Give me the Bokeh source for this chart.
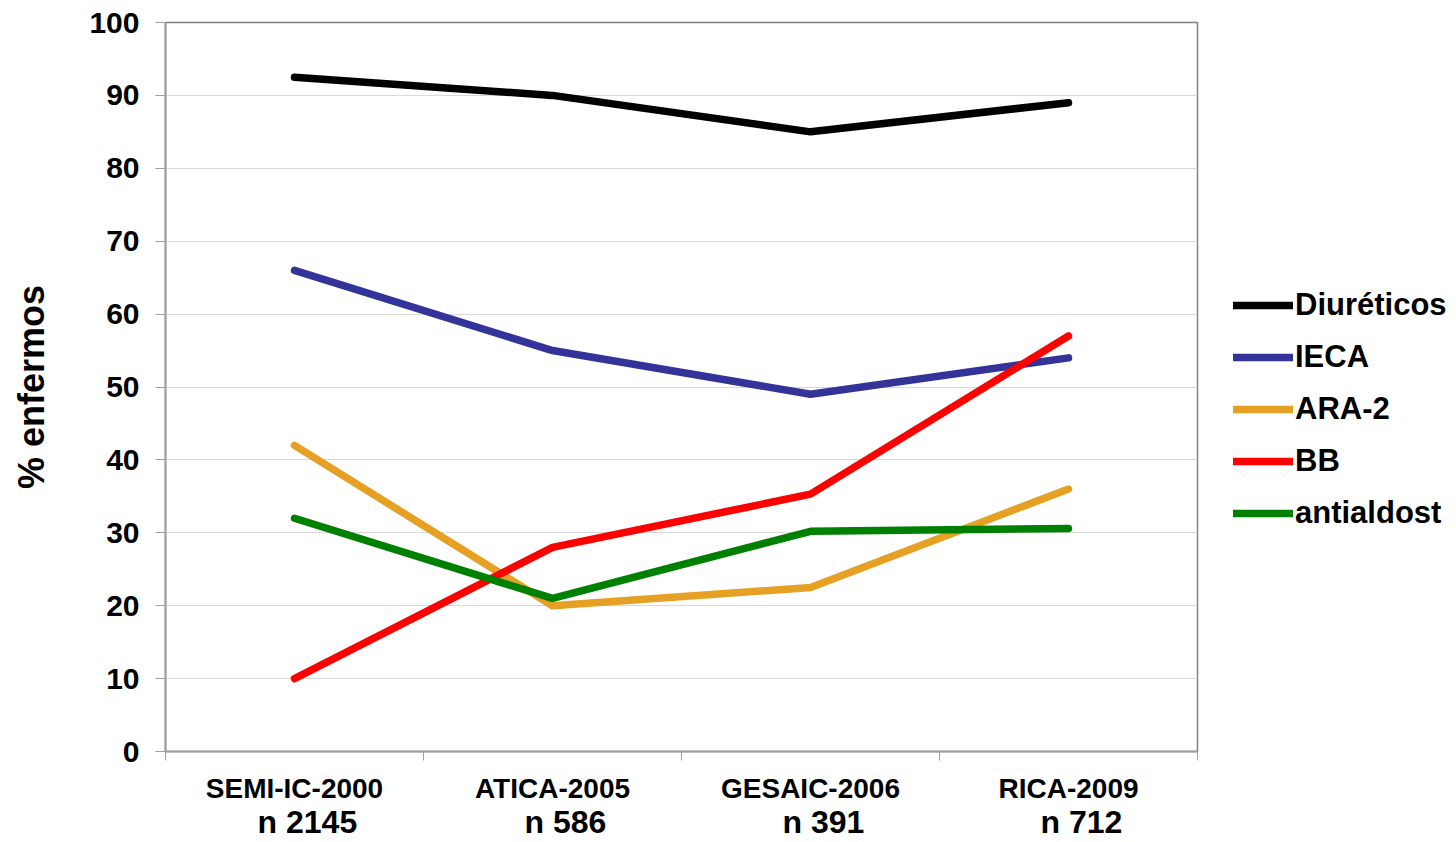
from bokeh.plotting import figure
from bokeh.layouts import row
from bokeh.models import Range1d, FixedTicker, LinearAxis, Legend, LegendItem
from bokeh.embed import file_html
from bokeh.resources import INLINE
import numpy as np

categories = ["SEMI-IC-2000", "ATICA-2005", "GESAIC-2006", "RICA-2009"]
sample_sizes = ["n 2145", "n 586", "n 391", "n 712"]
series_names = ["Diuréticos", "IECA", "ARA-2", "BB", "antialdost"]
diureticos = [92.5, 90, 85, 89]
ieca = [66, 55, 49, 54]
ara2 = [42, 20, 22.5, 36]
bb = [10, 28, 35.3, 57]
antialdost = [32, 21, 30.2, 30.6]
y_ticks = list(range(0, 101, 10))

series = [diureticos, ieca, ara2, bb, antialdost]
colors = ["#000000", "#333399", "#E6A024", "#FF0000", "#008000"]

FONT = "Liberation Sans"
n = len(categories)
xs = list(np.arange(n) + 0.5)

p = figure(width=1199, height=842, output_backend="svg", toolbar_location=None,
           x_range=Range1d(0, n), y_range=Range1d(0, 100),
           min_border_left=165, min_border_right=2, min_border_top=22, min_border_bottom=91)
p.background_fill_color = "white"
p.border_fill_color = "white"
p.outline_line_color = "#808080"
p.outline_line_width = 1.5

# y axis
p.yaxis.ticker = FixedTicker(ticks=y_ticks)
p.yaxis.axis_label = "% enfermos"
p.yaxis.axis_label_text_font = FONT
p.yaxis.axis_label_text_font_style = "bold"
p.yaxis.axis_label_text_font_size = "36px"
p.yaxis.axis_label_text_color = "#000000"
p.yaxis.axis_label_standoff = 34
p.yaxis.major_label_text_font = FONT
p.yaxis.major_label_text_font_style = "bold"
p.yaxis.major_label_text_font_size = "30px"
p.yaxis.major_label_text_color = "#000000"
p.yaxis.major_label_standoff = 16
p.yaxis.axis_line_color = "#A0A0A0"
p.yaxis.axis_line_width = 2
p.yaxis.major_tick_line_color = "#A0A0A0"
p.yaxis.major_tick_out = 10
p.yaxis.major_tick_in = 0
p.yaxis.minor_tick_line_color = None

# x axis: category labels at centers, boundary ticks as minor ticks
p.xaxis.ticker = FixedTicker(ticks=xs, minor_ticks=list(range(n + 1)))
p.xaxis.major_label_overrides = {float(x): c for x, c in zip(xs, categories)}
p.xaxis.major_label_text_font = FONT
p.xaxis.major_label_text_font_style = "bold"
p.xaxis.major_label_text_font_size = "28px"
p.xaxis.major_label_text_color = "#000000"
p.xaxis.major_label_standoff = 12
p.xaxis.major_tick_line_color = None
p.xaxis.major_tick_out = 0
p.xaxis.major_tick_in = 0
p.xaxis.minor_tick_line_color = "#A0A0A0"
p.xaxis.minor_tick_out = 9
p.xaxis.minor_tick_in = 0
p.xaxis.axis_line_color = "#A0A0A0"
p.xaxis.axis_line_width = 2

xs_n = [x + 0.05 for x in xs]
nax = LinearAxis(ticker=FixedTicker(ticks=xs_n, minor_ticks=[]),
                 major_label_overrides={float(x): s for x, s in zip(xs_n, sample_sizes)})
nax.axis_line_color = None
nax.major_tick_line_color = None
nax.major_tick_out = 0
nax.major_tick_in = 0
nax.major_label_standoff = -3
nax.major_label_text_font = FONT
nax.major_label_text_font_style = "bold"
nax.major_label_text_font_size = "32px"
nax.major_label_text_color = "#000000"
p.add_layout(nax, "below")

p.xgrid.grid_line_color = None
p.ygrid.ticker = FixedTicker(ticks=y_ticks)
p.ygrid.grid_line_color = "#D9D9D9"
p.ygrid.grid_line_width = 1.2

for vals, col in zip(series, colors):
    p.line(xs, vals, line_color=col, line_width=7.5, line_cap="round", line_join="round")

# legend panel to the right of the plot
p2 = figure(width=257, height=842, output_backend="svg", toolbar_location=None,
            x_axis_type=None, y_axis_type=None, x_range=Range1d(0, n), y_range=Range1d(0, 100),
            min_border_left=0, min_border_right=0, min_border_top=0, min_border_bottom=0)
p2.outline_line_color = None
p2.xgrid.visible = False
p2.ygrid.visible = False
items = []
for name, vals, col in zip(series_names, series, colors):
    r = p2.line(xs, vals, line_color=col, line_width=7.5, line_cap="round")
    r.visible = False
    items.append(LegendItem(label=name, renderers=[r]))

legend = Legend(items=items, location=(34, 212))
legend.border_line_color = None
legend.background_fill_alpha = 0
legend.padding = 0
legend.margin = 0
legend.spacing = 0
legend.glyph_width = 60
legend.glyph_height = 20
legend.label_height = 52
legend.label_standoff = 2
legend.label_text_font = FONT
legend.label_text_font_style = "bold"
legend.label_text_font_size = "31px"
legend.label_text_color = "#000000"
p2.add_layout(legend, "center")

layout = row(p, p2, spacing=0)
open("out.html", "w").write(file_html(layout, INLINE))
